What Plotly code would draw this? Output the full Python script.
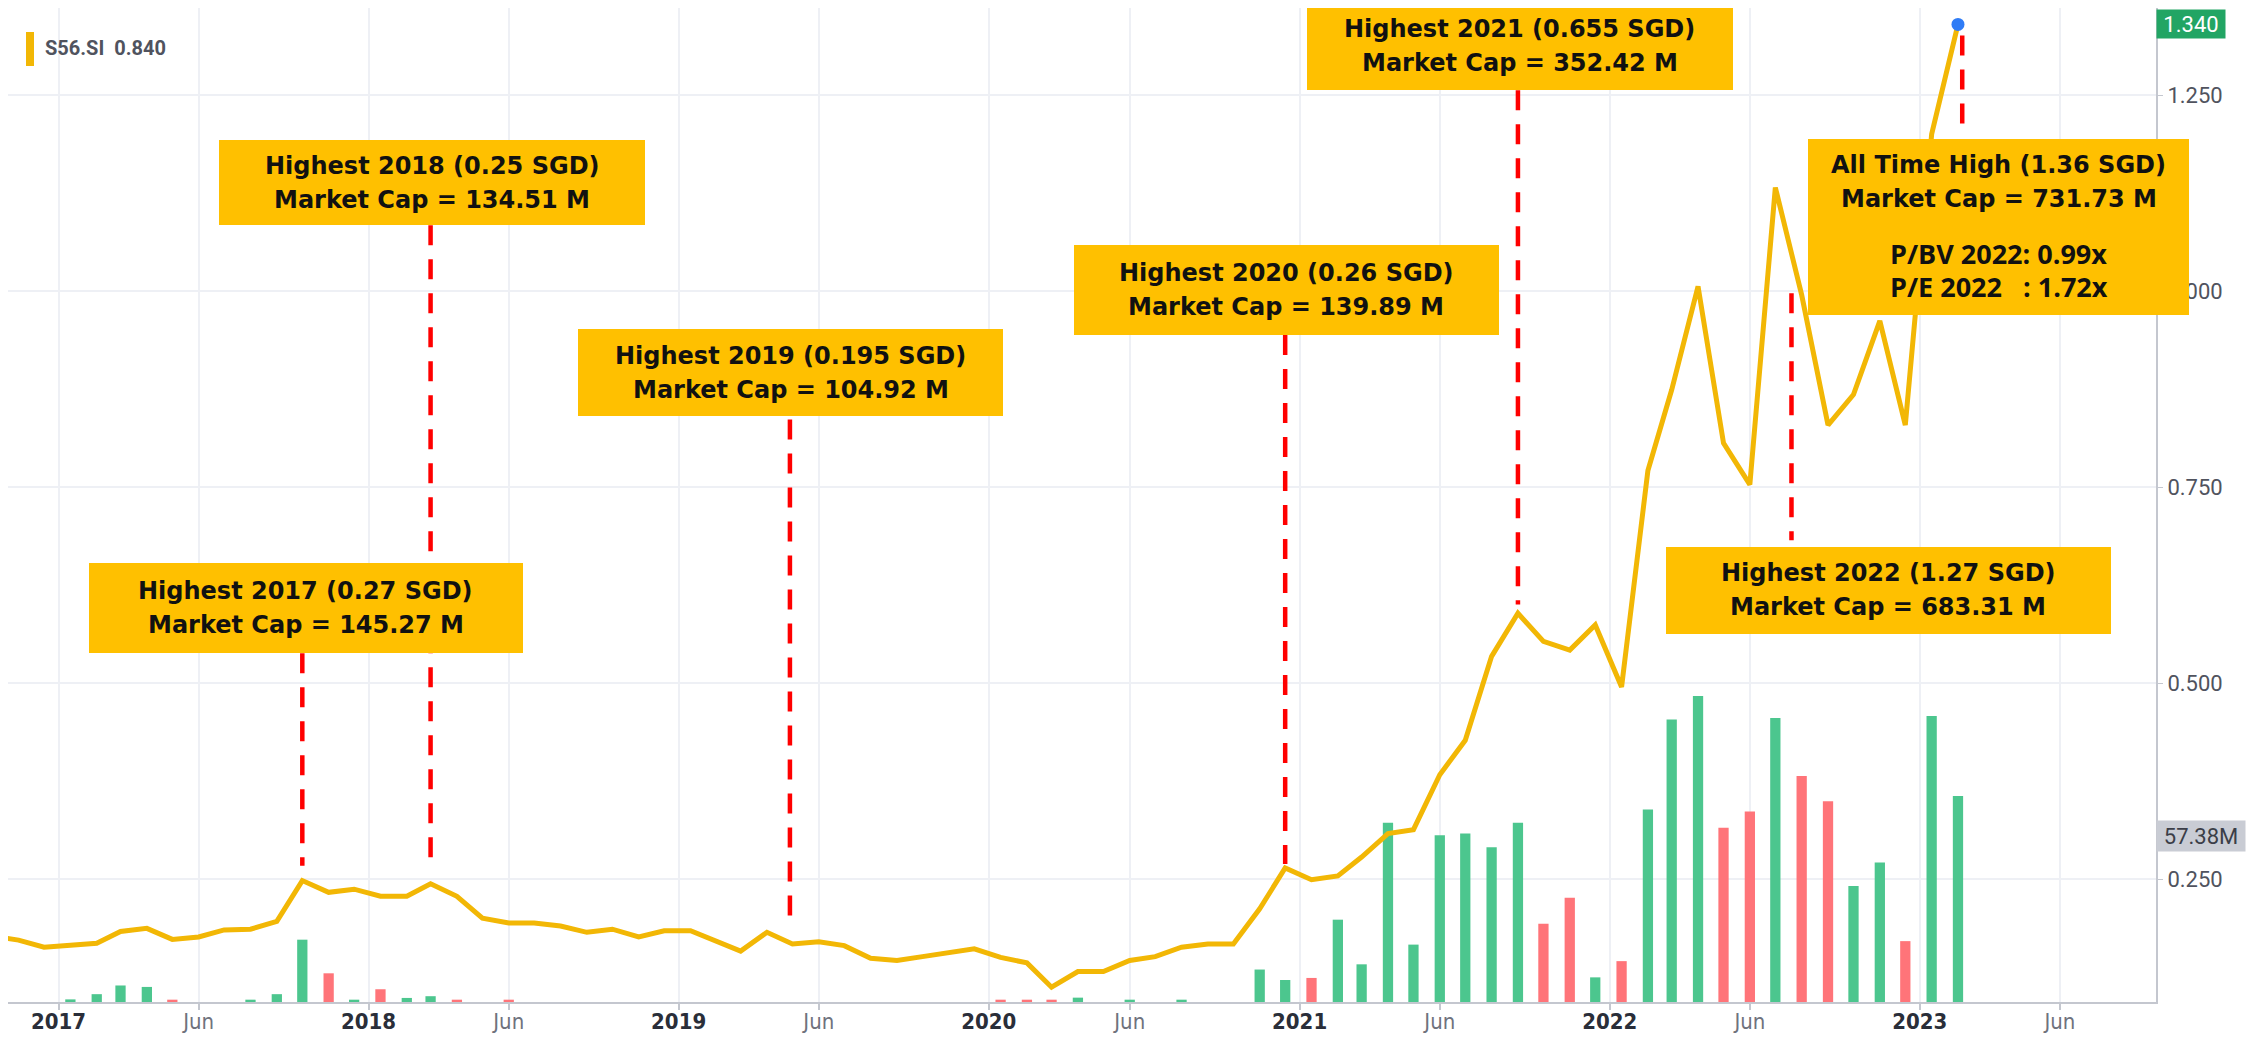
import pandas as pd
import plotly.graph_objects as go

# ---------------- data ----------------
months = pd.date_range("2016-10-01", "2023-02-01", freq="MS") + pd.Timedelta(days=14)

p2016 = [0.177, 0.172, 0.163]
p2017 = [0.165, 0.168, 0.183, 0.187, 0.173, 0.176, 0.185, 0.186, 0.196, 0.248, 0.233, 0.237]
p2018 = [0.228, 0.228, 0.244, 0.228, 0.200, 0.194, 0.194, 0.190, 0.182, 0.186, 0.176, 0.184]
p2019 = [0.184, 0.170, 0.158, 0.182, 0.167, 0.170, 0.165, 0.149, 0.146, 0.151, 0.156, 0.161]
p2020 = [0.150, 0.143, 0.112, 0.132, 0.132, 0.146, 0.151, 0.163, 0.167, 0.167, 0.212, 0.264]
p2021 = [0.249, 0.254, 0.278, 0.308, 0.313, 0.383, 0.427, 0.534, 0.589, 0.553, 0.542, 0.574]
p2022 = [0.495, 0.771, 0.874, 1.006, 0.806, 0.753, 1.132, 0.995, 0.829, 0.868, 0.962, 0.829]
p2023 = [1.200, 1.340]
prices = p2016 + p2017 + p2018 + p2019 + p2020 + p2021 + p2022 + p2023

# monthly volume, millions
v2016 = [0, 0, 0]
v2017 = [0.9, 2.7, 5.7, 5.2, 0.8, 0, 0, 0.8, 2.7, 21.5, 9.9, 0.8]
v2018 = [4.4, 1.4, 2.0, 0.8, 0, 0.8, 0, 0, 0, 0, 0, 0]
v2019 = [0, 0, 0, 0, 0, 0, 0, 0, 0, 0, 0, 0]
v2020 = [0.8, 0.8, 0.8, 1.5, 0, 0.8, 0, 0.8, 0, 0, 11.2, 7.6]
v2021 = [8.3, 28.4, 13.0, 61.8, 19.8, 57.5, 58.1, 53.4, 61.8, 27.0, 36.0, 8.5]
v2022 = [14.1, 66.4, 97.5, 105.6, 60.1, 65.7, 98.0, 78.0, 69.3, 40.0, 48.1, 21.0]
v2023 = [98.7, 71.1]
volume_m = v2016 + v2017 + v2018 + v2019 + v2020 + v2021 + v2022 + v2023

# 1 = up month (green), 0 = down month (red)
d2016 = [1, 1, 1]
d2017 = [1, 1, 1, 1, 0, 1, 1, 1, 1, 1, 0, 1]
d2018 = [0, 1, 1, 0, 1, 0, 1, 1, 1, 1, 1, 1]
d2019 = [1, 1, 1, 1, 1, 1, 1, 1, 1, 1, 1, 1]
d2020 = [0, 0, 0, 1, 1, 1, 1, 1, 1, 1, 1, 1]
d2021 = [0, 1, 1, 1, 1, 1, 1, 1, 1, 0, 0, 1]
d2022 = [0, 1, 1, 1, 0, 0, 1, 0, 0, 1, 1, 0]
d2023 = [1, 1]
vol_dir = d2016 + d2017 + d2018 + d2019 + d2020 + d2021 + d2022 + d2023

years = [2017, 2018, 2019, 2020, 2021, 2022, 2023]
price_ticks = [0.25, 0.50, 0.75, 1.00, 1.25]
last_volume_label = 57.38
legend_text = "S56.SI\u00a0\u00a00.840"

# annotation boxes: line1, line2, centre date, centre price, width px, height px
boxes = [
    ("Highest 2017 (0.27 SGD)", "Market Cap = 145.27 M", "2017-10-19", 0.596, 434, 90),
    ("Highest 2018 (0.25 SGD)", "Market Cap = 134.51 M", "2018-03-17", 1.138, 426, 85),
    ("Highest 2019 (0.195 SGD)", "Market Cap = 104.92 M", "2019-05-13", 0.896, 425, 87),
    ("Highest 2020 (0.26 SGD)", "Market Cap = 139.89 M", "2020-12-16", 1.001, 425, 90),
    ("Highest 2021 (0.655 SGD)", "Market Cap = 352.42 M", "2021-09-17", 1.312, 426, 87),
    ("Highest 2022 (1.27 SGD)", "Market Cap = 683.31 M", "2022-11-25", 0.618, 445, 87),
    ("All Time High (1.36 SGD)", "Market Cap = 731.73 M", "2023-04-04", 1.139, 381, 86),
]
ratio_box = ("P/BV 2022: 0.99x", "P/E 2022\u00a0\u00a0\u00a0: 1.72x", "2023-04-04", 1.0268, 381, 90)

# red dashed guides: date, top price, bottom price
dashes = [
    ("2017-10-15", 0.538, 0.267),
    ("2018-03-15", 1.084, 0.266),
    ("2019-05-12", 0.836, 0.194),
    ("2020-12-15", 0.944, 0.269),
    ("2021-09-15", 1.256, 0.600),
    ("2022-08-03", 0.997, 0.682),
    ("2023-02-20", 1.326, 1.203),
]

# ---------------- geometry (screen px; page body has an 8px margin) ----------------
OFF = 8
W, H = 2264 - 2 * OFF, 1043 - 2 * OFF - 2
S_L, S_R, S_T, S_B = OFF, 2156, OFF, 1002       # plot area in screen pixels
ML, MT = S_L - OFF, S_T - OFF
MR = W - (S_R - OFF)
MB = H - (S_B - OFF)
PW, PH = S_R - S_L, S_B - S_T
PX_PER_DAY = 0.8495
X2017 = 58.5          # screen px of 2017-01-01
ref = pd.Timestamp("2017-01-01")
x_start = ref - pd.Timedelta(days=(X2017 - S_L) / PX_PER_DAY)
x_end = ref + pd.Timedelta(days=(S_R - X2017) / PX_PER_DAY)
PX_PER_UNIT = 784.0
Y025 = 879.0          # screen px of price 0.25
y_lo = 0.25 - (S_B - Y025) / PX_PER_UNIT
y_hi = 0.25 + (Y025 - S_T) / PX_PER_UNIT
VOL_PER_PX = 0.345

LINE = "#f2b705"
BOX = "#ffc000"
GREEN = "#4cc68e"
RED = "#ff7479"
GRID = "#eef0f5"
AXIS = "#c4c7cf"
LABEL = "#50535e"


def px_x(sx):
    return (sx - S_L) / PW


def px_y(sy):
    return 1 - (sy - S_T) / PH


fig = go.Figure()

bar_ms = 12.1 * 86400000
fig.add_trace(go.Bar(
    x=months, y=volume_m, width=bar_ms,
    marker=dict(color=[GREEN if d else RED for d in vol_dir], line=dict(width=0)),
    yaxis="y", hoverinfo="skip",
))
fig.add_trace(go.Scatter(
    x=months, y=prices, mode="lines", yaxis="y2",
    line=dict(color=LINE, width=5), hoverinfo="skip",
))
fig.add_trace(go.Scatter(
    x=[months[-1]], y=[prices[-1]], mode="markers", yaxis="y2",
    marker=dict(color="#2f7cf6", size=13), hoverinfo="skip",
))

tickvals, ticktext = [], []
for y in years:
    tickvals += [f"{y}-01-01", f"{y}-06-15"]
    ticktext += [f"<b>{y}</b>", "<span style='color:#6f727d'>Jun</span>"]

fig.update_layout(
    width=W, height=H,
    margin=dict(l=ML, r=MR, t=MT, b=MB, pad=0),
    paper_bgcolor="white", plot_bgcolor="white",
    showlegend=False,
    xaxis=dict(
        type="date", range=[x_start, x_end],
        tickvals=tickvals, ticktext=ticktext,
        showgrid=True, gridcolor=GRID, gridwidth=1.5,
        showline=True, linecolor=AXIS, linewidth=2,
        ticks="outside", ticklen=6, tickcolor=AXIS, tickwidth=1.5,
        ticklabelstandoff=-7,
        tickfont=dict(family="Liberation Sans Narrow, DejaVu Sans Condensed, Roboto Condensed, Roboto",
                      size=22, color="#2a2e39"),
        zeroline=False, automargin=False,
    ),
    yaxis=dict(
        range=[0, PH * VOL_PER_PX], visible=False, fixedrange=True,
        showgrid=False, zeroline=False,
    ),
    yaxis2=dict(
        overlaying="y", side="right", range=[y_lo, y_hi],
        tickvals=price_ticks, ticktext=[f"{v:.3f}" for v in price_ticks],
        showgrid=True, gridcolor=GRID, gridwidth=1.5,
        showline=True, linecolor=AXIS, linewidth=2,
        ticks="outside", ticklen=5, tickcolor=AXIS,
        tickfont=dict(family="Roboto", size=22, color=LABEL),
        zeroline=False, automargin=False,
    ),
)

# dashed guide lines
for xd, yt, yb in dashes:
    fig.add_shape(type="line", xref="x", yref="y2", x0=xd, x1=xd, y0=yt, y1=yb,
                  line=dict(color="#ff0000", width=4.5, dash="20px,14px"), layer="above")


def add_box(l1, l2, xd, yv, w, h, family, size, gap):
    fig.add_annotation(
        x=xd, y=yv, xref="x", yref="y2", showarrow=False, text="\u00a0",
        bgcolor=BOX, width=w, height=h, borderpad=0, borderwidth=0,
        xanchor="center", yanchor="middle", font=dict(size=4),
    )
    for txt, shift in ((l1, gap), (l2, -gap)):
        fig.add_annotation(
            x=xd, y=yv, xref="x", yref="y2", showarrow=False,
            text=f"<b>{txt}</b>", yshift=shift,
            xanchor="center", yanchor="middle", align="center",
            font=dict(family=family, size=size, color="#111111"),
        )


for l1, l2, xd, yv, w, h in boxes:
    add_box(l1, l2, xd, yv, w, h, "DejaVu Sans", 24, 17)
add_box(*ratio_box, "Open Sans", 27, 16.5)

# legend
fig.add_shape(type="rect", xref="paper", yref="paper",
              x0=px_x(26), x1=px_x(34), y0=px_y(66), y1=px_y(32),
              fillcolor=LINE, line=dict(width=0), layer="above")
fig.add_annotation(x=px_x(43), y=px_y(48), xref="paper", yref="paper",
                   text=f"<b>{legend_text}</b>", showarrow=False,
                   xanchor="left", yanchor="middle",
                   font=dict(family="Roboto", size=20, color=LABEL))

# last price label
fig.add_annotation(x=1, y=prices[-1], xref="paper", yref="y2",
                   text=f"{prices[-1]:.3f}", showarrow=False,
                   xanchor="left", yanchor="middle", bgcolor="#22a564",
                   width=68, height=28, borderpad=0,
                   font=dict(family="Roboto", size=22, color="white"))
# volume label
fig.add_annotation(x=1, y=last_volume_label, xref="paper", yref="y",
                   text=f"{last_volume_label:.2f}M", showarrow=False,
                   xanchor="left", yanchor="middle", bgcolor="#c9ccd4",
                   width=88, height=30, borderpad=0,
                   font=dict(family="Roboto", size=22, color="#3b3e48"))

fig.write_html("out.html")
